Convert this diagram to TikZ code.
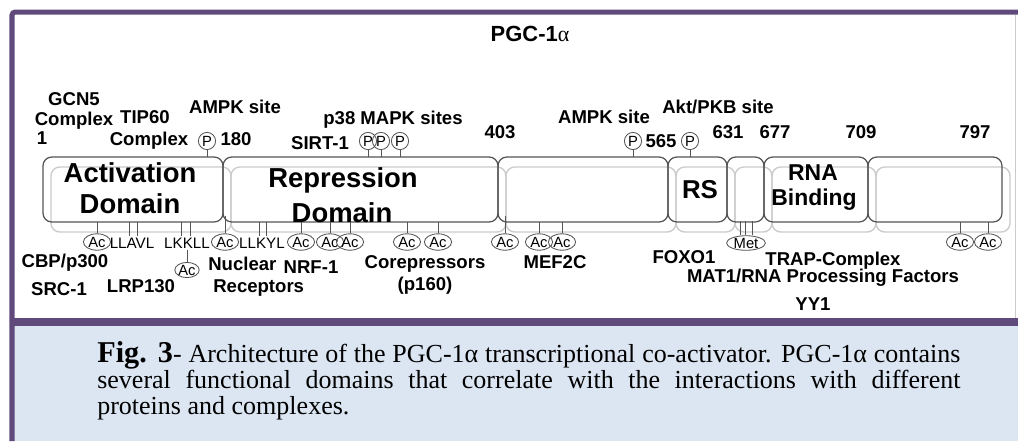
\documentclass[tikz,border=0pt]{standalone}
\usepackage{fontspec}
\setmainfont{Liberation Sans}
\newfontfamily\capfont{Liberation Serif}
\newfontfamily\greekfont{Liberation Serif}
\usetikzlibrary{shapes.geometric}
\definecolor{framepurple}{HTML}{604A7B}
\definecolor{capblue}{HTML}{DCE6F2}
\definecolor{boxgray}{HTML}{555555}
\definecolor{shadegray}{HTML}{CCCCCC}
\begin{document}
\begin{tikzpicture}[x=0.025cm,y=-0.025cm,
  lab/.style={font=\fontsize{13.2}{15}\selectfont\bfseries,inner sep=0pt,anchor=base},
  res/.style={font=\fontsize{10.8}{12}\selectfont,inner sep=0pt,anchor=base},
  dom/.style={font=\fontsize{19.5}{22}\selectfont\bfseries,inner sep=0pt,anchor=base},
  pmark/.style={circle,draw=boxgray,line width=0.6pt,minimum size=0.43cm,inner sep=0pt,font=\fontsize{10.5}{11}\selectfont},
  acmark/.style={ellipse,draw=boxgray,line width=0.6pt,minimum width=0.68cm,minimum height=0.41cm,inner sep=0pt,font=\fontsize{10.5}{11}\selectfont},
  tick/.style={boxgray,line width=0.6pt},
  dombox/.style={boxgray,line width=0.9pt,rounded corners=0.22cm},
  shadebox/.style={shadegray,line width=1pt,rounded corners=0.22cm}]
\useasboundingbox (0,0) rectangle (1018,441);
\fill[white] (0,0) rectangle (1018,441);
\fill[capblue] (12,322) rectangle (1018,441);
\fill[framepurple] (12,318) rectangle (1018,326);
\draw[framepurple,line width=0.125cm,rounded corners=0.08cm] (12,441) -- (12,12) -- (1018,12);
\draw[shadegray,line width=0.4pt] (1015,15) -- (1015,318);
\node[lab,font=\fontsize{15.6}{18}\selectfont\bfseries] (title) at (530,41) {PGC-1{\greekfont\mdseries α}};
\coordinate (top) at (0,157);
\coordinate (bot) at (0,222);
\coordinate (notch) at (0,216);
\draw[shadebox] (51,167) rectangle (231,232);
\draw[shadebox] (231,167) rectangle (506,232);
\draw[shadebox] (506,167) rectangle (676,232);
\draw[shadebox] (676,167) rectangle (735,232);
\draw[shadebox] (735,167) rectangle (772,232);
\draw[shadebox] (772,167) rectangle (876,232);
\draw[shadebox] (876,167) rectangle (1010,232);
\draw[dombox] (43,157) rectangle (223,222);
\draw[dombox] (223,157) rectangle (498,222);
\draw[dombox] (498,157) rectangle (668,222);
\draw[dombox] (668,157) rectangle (727,222);
\draw[dombox] (727,157) rectangle (764,222);
\draw[dombox] (764,157) rectangle (868,222);
\draw[dombox] (868,157) rectangle (1002,222);
\node[dom] (actA) at (130,182) {Activation};
\node[dom] (actB) at (130,213) {Domain};
\node[dom] (repA) at (343,187) {Repression};
\node[dom] (repB) at (342,222) {Domain};
\node[dom,font=\fontsize{18.4}{20}\selectfont\bfseries] (rs) at (700,198) {RS};
\node[dom,font=\fontsize{16.3}{18}\selectfont\bfseries] (rnaA) at (813,180) {RNA};
\node[dom,font=\fontsize{16.3}{18}\selectfont\bfseries] (rnaB) at (814,205) {Binding};
\node[lab] (gcnA) at (74,105) {GCN5};
\node[lab] (gcnB) at (74,125) {Complex};
\node[lab] (n1) at (42,144) {1};
\node[lab] (tipA) at (145,123) {TIP60};
\node[lab] (tipB) at (149,145) {Complex};
\node[lab] (ampkA) at (235,113) {AMPK site};
\node[lab] (n180) at (236,145) {180};
\node[lab] (p38) at (393,124) {p38 MAPK sites};
\node[lab] (sirt) at (320,149) {SIRT-1};
\node[lab] (n403) at (500,138) {403};
\node[lab] (ampkB) at (604,123) {AMPK site};
\node[lab] (n565) at (661,147) {565};
\node[lab] (akt) at (718,113) {Akt/PKB site};
\node[lab] (n631) at (728,138) {631};
\node[lab] (n677) at (775,138) {677};
\node[lab] (n709) at (861,138) {709};
\node[lab] (n797) at (975,138) {797};
\node[pmark] (pa) at (207,141) {P};
\node[pmark] (pb) at (368,141) {P};
\node[pmark] (pc) at (381,141) {P};
\node[pmark] (pd) at (400,141) {P};
\node[pmark] (pe) at (633,141) {P};
\node[pmark] (pf) at (690,141) {P};
\draw[tick] (pa) -- (pa |- top);
\draw[tick] (pb) -- (pb |- top);
\draw[tick] (pc) -- (pc |- top);
\draw[tick] (pd) -- (pd |- top);
\draw[tick] (pe) -- (pe |- top);
\draw[tick] (pf) -- (pf |- top);
\node[acmark] (ac1) at (97,242) {Ac};
\node[acmark] (ac2) at (225,242) {Ac};
\node[acmark] (ac3) at (301,242) {Ac};
\node[acmark] (ac4) at (330,242) {Ac};
\node[acmark] (ac5) at (350,242) {Ac};
\node[acmark] (ac6) at (407,242) {Ac};
\node[acmark] (ac7) at (438,242) {Ac};
\node[acmark] (ac8) at (505,242) {Ac};
\node[acmark] (ac9) at (539,242) {Ac};
\node[acmark] (ac10) at (562,242) {Ac};
\node[acmark] (ac11) at (960,242) {Ac};
\node[acmark] (ac12) at (988,242) {Ac};
\draw[tick] (ac1) -- (ac1 |- bot);
\draw[tick] (ac2) -- (ac2 |- notch);
\draw[tick] (ac3) -- (ac3 |- bot);
\draw[tick] (ac4) -- (ac4 |- bot);
\draw[tick] (ac5) -- (ac5 |- bot);
\draw[tick] (ac6) -- (ac6 |- bot);
\draw[tick] (ac7) -- (ac7 |- bot);
\draw[tick] (ac8) -- (ac8 |- notch);
\draw[tick] (ac9) -- (ac9 |- bot);
\draw[tick] (ac10) -- (ac10 |- bot);
\draw[tick] (ac11) -- (ac11 |- bot);
\draw[tick] (ac12) -- (ac12 |- bot);
\node[res] (llavl) at (132,248) {LLAVL};
\node[res] (lkkll) at (187,248) {LKKLL};
\node[res] (llkyl) at (262,248) {LLKYL};
\draw[tick] ([shift={(-3,-1)}]llavl.north) -- ++(0,-14);
\draw[tick] ([shift={(5,-1)}]llavl.north) -- ++(0,-14);
\draw[tick] ([shift={(-6,-1)}]lkkll.north) -- ++(0,-14);
\draw[tick] ([shift={(3,-1)}]lkkll.north) -- ++(0,-14);
\draw[tick] ([shift={(-3,-1)}]llkyl.north) -- ++(0,-14);
\draw[tick] ([shift={(4,-1)}]llkyl.north) -- ++(0,-14);
\node[acmark,minimum width=0.5cm,minimum height=0.38cm] (acl) at (187,270) {Ac};
\draw[tick] (acl) -- ([yshift=-0.05cm]acl |- lkkll.south);
\node[acmark,minimum width=0.97cm,minimum height=0.35cm] (met) at (746,243) {Met};
\draw[tick] ([xshift=-0.15cm]met.north) -- ++(0,-14);
\draw[tick] ([xshift=-0.025cm]met.north) -- ++(0,-14);
\draw[tick] ([xshift=0.15cm]met.north) -- ++(0,-14);
\node[lab] (cbp) at (65,267) {CBP/p300};
\node[lab] (src) at (59,295) {SRC-1};
\node[lab] (lrp) at (141,292) {LRP130};
\node[lab,anchor=base west] (nucA) at (208,270) {Nuclear};
\node[lab,anchor=base west] (nucB) at (213,292) {Receptors};
\node[lab] (nrf) at (311,273) {NRF-1};
\node[lab] (corep) at (425,268) {Corepressors};
\node[lab] (p160) at (425,290) {(p160)};
\node[lab] (mef) at (555,268) {MEF2C};
\node[lab] (foxo) at (684,263) {FOXO1};
\node[lab] (trap) at (833,265) {TRAP-Complex};
\node[lab] (mat) at (823,282) {MAT1/RNA Processing Factors};
\node[lab] (yy) at (813,310) {YY1};
\node[anchor=base west,inner sep=0pt,text width=21.575cm,align=justify,font=\capfont\fontsize{18.5}{18.5}\selectfont] (cap) at (97,362) {{\fontsize{21.5}{18.5}\selectfont\bfseries Fig. 3}- Architecture of the PGC-1α transcriptional co-activator. PGC-1α contains\linebreak several functional domains that correlate with the interactions with different\linebreak proteins and complexes.};
\end{tikzpicture}
\end{document}
